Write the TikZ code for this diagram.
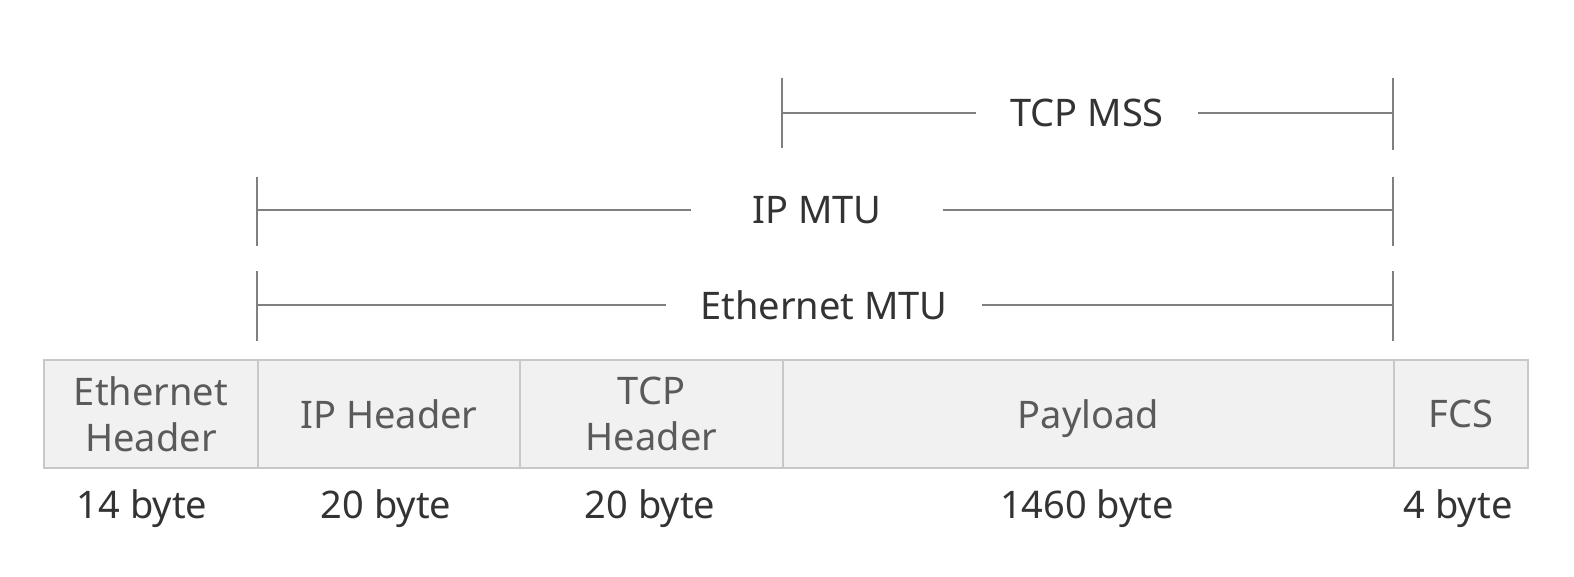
\documentclass[tikz,border=0pt]{standalone}
\usepackage{fontspec}
\setmainfont{Noto Sans}
\definecolor{boxline}{HTML}{C8C8C8}
\definecolor{boxfill}{HTML}{F1F1F1}
\definecolor{boxtext}{HTML}{5A5A5A}
\definecolor{labtext}{HTML}{333333}
\definecolor{barline}{HTML}{808080}
\begin{document}
\begin{tikzpicture}[x=1pt,y=-1pt,
  cell/.style={draw=boxline, fill=boxfill, line width=2pt, minimum height=108pt,
    text=boxtext, font=\fontsize{38}{46}\selectfont, align=center, inner sep=0pt,
    anchor=north west},
  sizelab/.style={text=labtext, font=\fontsize{38}{44}\selectfont, anchor=base, inner sep=0pt},
  barlab/.style={text=labtext, font=\fontsize{38}{44}\selectfont, inner sep=0pt},
  bar/.style={draw=barline, line width=2.2pt}
]
\useasboundingbox (0,0) rectangle (1574,576);

% frame cells
\node[cell, minimum width=214pt] (eth) at (43,359) {Ethernet\\Header};
\node[cell, minimum width=262pt] (ip)  at (257,359) {IP Header};
\node[cell, minimum width=263pt] (tcp) at (519,359) {TCP\\Header};
\node[cell, minimum width=611pt, text depth=0pt] (pay) at (782,359) {Payload};
\node[cell, minimum width=134pt] (fcs) at (1393,359) {FCS};

% sizes
\node[sizelab] (s1) at (142,518) {14 byte};
\node[sizelab] (s2) at (386,518) {20 byte};
\node[sizelab] (s3) at (650,518) {20 byte};
\node[sizelab] (s4) at (1087,518) {1460 byte};
\node[sizelab] (s5) at (1458,518) {4 byte};

% TCP MSS
\coordinate (mssL) at (782,113);
\coordinate (mssR) at (1393,113);
\node[barlab, minimum width=222pt] (mss) at (1087,113) {TCP MSS};
\draw[bar] (mssL) -- (mss.west);
\draw[bar] (mss.east) -- (mssR);
\draw[bar] (mssL) ++(0,-35) -- ++(0,70);
\draw[bar] (mssR) ++(0,-35) -- ++(0,72);

% IP MTU
\coordinate (ipL) at (257,210);
\coordinate (ipR) at (1393,210);
\node[barlab, minimum width=251pt] (ipmtu) at (817,210) {IP MTU};
\draw[bar] (ipL) -- (ipmtu.west);
\draw[bar] (ipmtu.east) -- (ipR);
\draw[bar] (ipL) ++(0,-33) -- ++(0,69);
\draw[bar] (ipR) ++(0,-33) -- ++(0,69);

% Ethernet MTU
\coordinate (ethL) at (257,305);
\coordinate (ethR) at (1393,305);
\node[barlab, minimum width=316pt] (ethmtu) at (824,305) {Ethernet MTU};
\draw[bar] (ethL) -- (ethmtu.west);
\draw[bar] (ethmtu.east) -- (ethR);
\draw[bar] (ethL) ++(0,-34) -- ++(0,70);
\draw[bar] (ethR) ++(0,-34) -- ++(0,70);
\end{tikzpicture}
\end{document}
